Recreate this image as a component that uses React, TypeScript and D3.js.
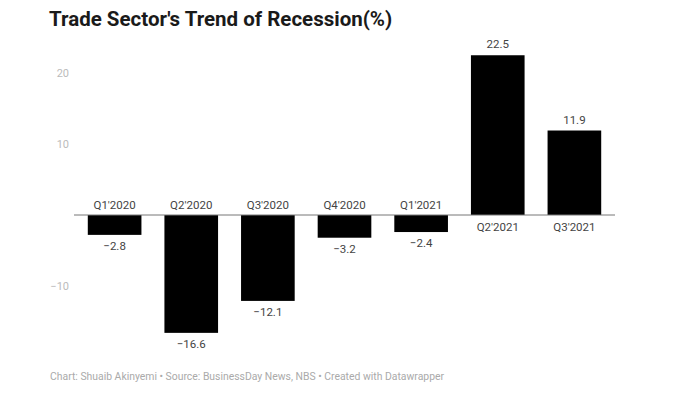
import React from "react";
import * as d3 from "d3";

const categories = ["Q1'2020", "Q2'2020", "Q3'2020", "Q4'2020", "Q1'2021", "Q2'2021", "Q3'2021"];
const values = [-2.8, -16.6, -12.1, -3.2, -2.4, 22.5, 11.9];
const yTicks = [20, 10, -10];
const title = "Trade Sector's Trend of Recession(%)";
const footer = "Chart: Shuaib Akinyemi • Source: BusinessDay News, NBS • Created with Datawrapper";

const W = 700;
const H = 400;
const FONT = "Roboto, 'Noto Sans', sans-serif";

export default function App() {
  const x = d3
    .scaleBand<string>()
    .domain(categories)
    .range([74, 615])
    .paddingInner(0.3)
    .paddingOuter(0.18);
  // zero at 215, 7.1 px per unit
  const y = d3.scaleLinear().domain([-10, 20]).range([286, 73]);
  const fmt = (v: number) => (v < 0 ? "\u2212" + Math.abs(v).toFixed(1) : v.toFixed(1));
  const fmtTick = (v: number) => (v < 0 ? "\u2212" + Math.abs(v) : String(v));
  const y0 = y(0);

  return (
    <svg
      width={W}
      height={H}
      style={{ position: "absolute", left: 0, top: 0, background: "#fff" }}
      fontFamily={FONT}
    >
      <rect x={0} y={0} width={W} height={H} fill="#fff" />
      <text x={49} y={26} fontSize={20.5} fontWeight={700} fill="#1a1a1a">
        {title}
      </text>
      {yTicks.map((t) => (
        <text key={t} x={69} y={y(t)} dy="0.35em" textAnchor="end" fontSize={11} fill="#bbb">
          {fmtTick(t)}
        </text>
      ))}
      {categories.map((c, i) => {
        const v = values[i];
        const bx = x(c)!;
        const bw = x.bandwidth();
        const top = Math.min(y(v), y0);
        const h = Math.abs(y(v) - y0);
        const cx = bx + bw / 2;
        return (
          <g key={c}>
            <rect x={bx} y={top} width={bw} height={h} fill="#000" />
            <text
              x={cx}
              y={v < 0 ? y0 - 10 : y0 + 12}
              dy="0.35em"
              textAnchor="middle"
              fontSize={11.5}
              fill="#444"
            >
              {c}
            </text>
            <text
              x={cx}
              y={v < 0 ? y(v) + 11 : y(v) - 11}
              dy="0.35em"
              textAnchor="middle"
              fontSize={11.5}
              fill="#444"
            >
              {fmt(v)}
            </text>
          </g>
        );
      })}
      <line x1={74} x2={615} y1={y0} y2={y0} stroke="#777" strokeWidth={1} />
      <text x={50} y={376} dy="0.35em" fontSize={10.4} fill="#aaa">
        {footer}
      </text>
    </svg>
  );
}
